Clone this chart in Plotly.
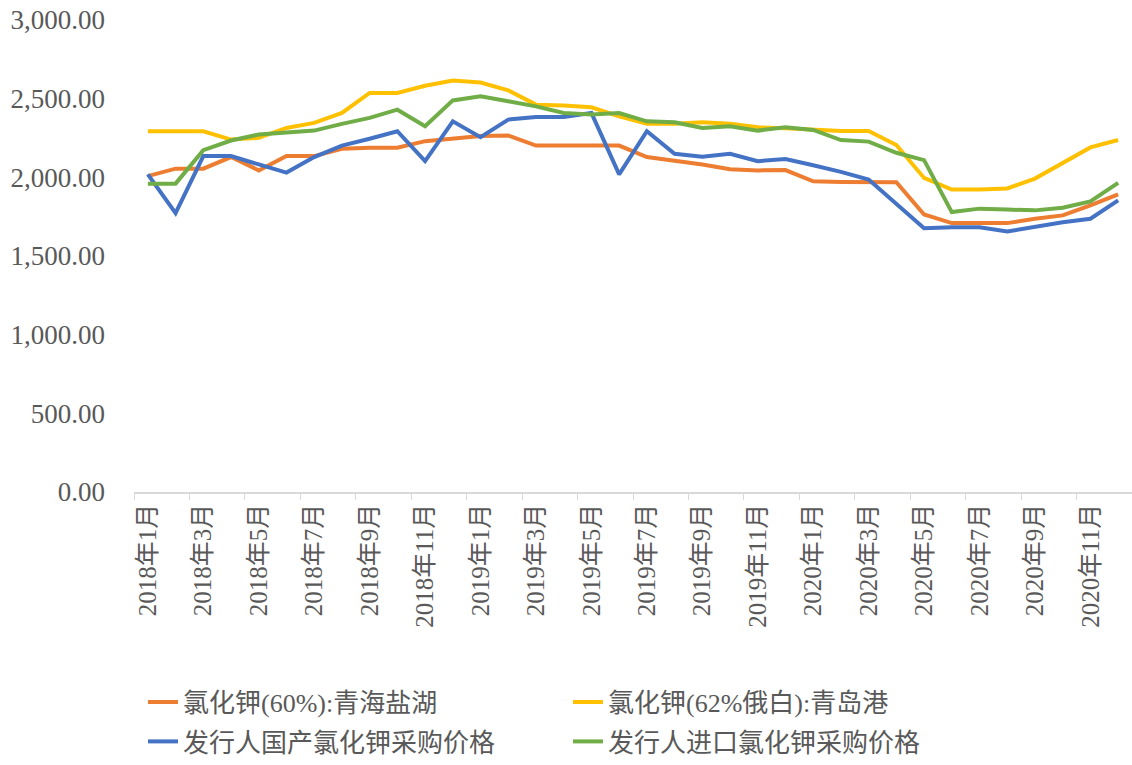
import plotly.graph_objects as go

months = [f"{y}年{m}月" for y in (2018, 2019, 2020) for m in range(1, 13)]

qinghai = [2008, 2055, 2055, 2129, 2044, 2135, 2135, 2181, 2188, 2188, 2230, 2247,
           2262, 2266, 2202, 2202, 2202, 2202, 2129, 2108, 2082, 2051, 2044, 2046,
           1975, 1971, 1969, 1969, 1764, 1709, 1709, 1709, 1737, 1758, 1822, 1892]
qingdao = [2293, 2293, 2293, 2240, 2251, 2314, 2346, 2409, 2536, 2536, 2582, 2616,
           2603, 2553, 2462, 2456, 2445, 2388, 2340, 2340, 2350, 2340, 2318, 2312,
           2301, 2295, 2295, 2205, 1996, 1922, 1922, 1929, 1992, 2092, 2190, 2237]
domestic = [2019, 1772, 2135, 2135, 2082, 2030, 2129, 2202, 2245, 2293, 2103, 2356,
            2255, 2367, 2384, 2384, 2409, 2019, 2293, 2150, 2131, 2150, 2103, 2116,
            2077, 2035, 1986, 1832, 1677, 1683, 1683, 1656, 1687, 1715, 1737, 1854]
imported = [1960, 1960, 2173, 2234, 2272, 2287, 2297, 2340, 2378, 2430, 2325, 2489,
            2515, 2483, 2451, 2409, 2399, 2409, 2356, 2350, 2314, 2325, 2297, 2318,
            2301, 2237, 2227, 2156, 2109, 1779, 1801, 1795, 1790, 1807, 1847, 1965]

series = [
    ("氯化钾(60%):青海盐湖", qinghai, "#ED7D31", "legend"),
    ("氯化钾(62%俄白):青岛港", qingdao, "#FFC000", "legend"),
    ("发行人国产氯化钾采购价格", domestic, "#4472C4", "legend2"),
    ("发行人进口氯化钾采购价格", imported, "#70AD47", "legend2"),
]

serif = "Times New Roman, Liberation Serif, Noto Sans CJK SC"

fig = go.Figure()
for name, vals, color, lg in series:
    fig.add_trace(go.Scatter(x=months, y=vals, mode="lines", name=name,
                             line=dict(color=color, width=4), legend=lg))

legend_style = dict(orientation="h", x=0.009, xanchor="left", yanchor="middle",
                    font=dict(family=serif, size=26, color="#595959"),
                    entrywidth=380, entrywidthmode="pixels",
                    bgcolor="rgba(0,0,0,0)")

fig.update_layout(
    width=1132, height=765,
    margin=dict(l=134, r=0, t=20, b=271),
    plot_bgcolor="white", paper_bgcolor="white",
    showlegend=True,
    legend=dict(y=-0.445, **legend_style),
    legend2=dict(y=-0.53, **legend_style),
    xaxis=dict(type="category", dtick=2, tickangle=-90, tickson="boundaries",
               ticks="outside", ticklen=6, tickcolor="#d9d9d9",
               showline=True, linecolor="#d9d9d9", linewidth=1.5,
               showgrid=False, range=[-0.5, 35.5], automargin=False,
               tickfont=dict(family=serif, size=25, color="#595959")),
    yaxis=dict(range=[0, 3000], dtick=500, tickformat=",.2f",
               showgrid=False, zeroline=False, showline=False,
               ticklabelstandoff=28, automargin=False,
               tickfont=dict(family=serif, size=27, color="#595959")),
)

# drop the browser's default 8px body margin so the figure fills the window
fig.write_html("out.html", config={"displayModeBar": False},
               post_script="document.body.style.margin='0';")
